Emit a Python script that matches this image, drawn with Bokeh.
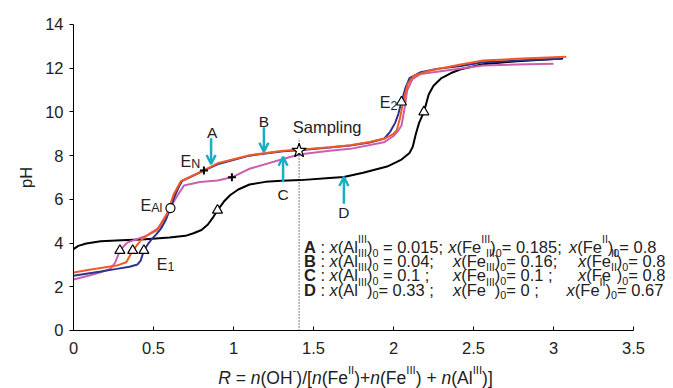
import math
from bokeh.plotting import figure
from bokeh.models import Label, Arrow, OpenHead, FixedTicker, Range1d
from bokeh.embed import file_html
from bokeh.resources import INLINE

# ---------------- data ----------------
X_TICKS = [0, 0.5, 1, 1.5, 2, 2.5, 3, 3.5]
X_TICK_LABELS = ["0", "0.5", "1", "1.5", "2", "2.5", "3", "3.5"]
Y_TICKS = [0, 2, 4, 6, 8, 10, 12, 14]
Y_TICK_LABELS = ["0", "2", "4", "6", "8", "10", "12", "14"]

# Curve A (blue)
R_A = [0, 0.1, 0.17, 0.27, 0.35, 0.4, 0.42, 0.44, 0.47, 0.49, 0.52, 0.55, 0.575, 0.606, 0.63, 0.66,
       0.68, 0.72, 0.815, 0.9, 1.1, 1.31, 1.41, 1.6, 1.73, 1.85, 1.94, 1.98, 2.01, 2.03, 2.05, 2.075,
       2.1, 2.17, 2.27, 2.42, 2.56, 2.77, 3.05]
PH_A = [2.5, 2.62, 2.7, 2.82, 2.92, 3.02, 3.2, 3.66, 4.0, 4.19, 4.42, 4.7, 5.03, 5.6, 6.1, 6.6,
        6.85, 6.98, 7.32, 7.6, 8.0, 8.2, 8.25, 8.37, 8.46, 8.6, 8.77, 9.1, 9.5, 9.9, 10.45, 11.1,
        11.55, 11.82, 11.97, 12.1, 12.27, 12.35, 12.43]

# Curve B (orange-red)
R_B = [0, 0.1, 0.17, 0.27, 0.33, 0.37, 0.42, 0.46, 0.52, 0.585, 0.627, 0.67, 0.72, 0.815, 0.9,
       1.1, 1.31, 1.41, 1.6, 1.73, 1.85, 1.95, 2.0, 2.02, 2.04, 2.06, 2.09, 2.13, 2.23, 2.42, 2.56,
       2.77, 3.08]
PH_B = [2.65, 2.78, 2.86, 2.97, 3.12, 3.66, 4.12, 4.35, 4.58, 5.34, 6.25, 6.82, 7.0, 7.33, 7.65,
        8.02, 8.22, 8.27, 8.38, 8.48, 8.62, 8.8, 9.0, 9.15, 9.7, 10.45, 11.3, 11.67, 11.9, 12.17,
        12.35, 12.43, 12.53]

# Curve C (magenta)
R_C = [0, 0.1, 0.17, 0.23, 0.26, 0.29, 0.335, 0.4, 0.46, 0.54, 0.6, 0.65, 0.69, 0.79, 0.9, 0.99,
       1.1, 1.31, 1.41, 1.6, 1.73, 1.94, 2.0, 2.03, 2.05, 2.07, 2.085, 2.12, 2.17, 2.33, 2.56, 2.77, 3.0]
PH_C = [2.33, 2.52, 2.66, 2.82, 3.1, 3.66, 4.02, 4.19, 4.35, 4.73, 5.57, 6.18, 6.63, 6.79, 6.86, 7.01,
        7.4, 7.85, 8.05, 8.22, 8.31, 8.61, 8.9, 9.15, 9.38, 10.2, 10.98, 11.51, 11.74, 11.9, 12.12,
        12.17, 12.2]

# Curve D (black)
R_D = [0, 0.03, 0.08, 0.17, 0.3, 0.45, 0.6, 0.7, 0.75, 0.8, 0.84, 0.87, 0.9, 0.94, 0.98, 1.03,
       1.1, 1.2, 1.3, 1.42, 1.6, 1.69, 1.81, 1.96, 2.05, 2.1, 2.12, 2.14, 2.16, 2.19, 2.22, 2.25,
       2.3, 2.36, 2.42, 2.56, 2.77, 3.06]
PH_D = [3.72, 3.87, 3.98, 4.08, 4.13, 4.18, 4.25, 4.33, 4.45, 4.6, 4.85, 5.15, 5.5, 5.9, 6.2, 6.45,
        6.68, 6.8, 6.85, 6.88, 6.98, 7.02, 7.22, 7.5, 7.82, 8.12, 8.4, 9.0, 9.5, 10.0, 10.8, 11.2,
        11.55, 11.78, 11.95, 12.18, 12.32, 12.44]

# Characteristic points
TRI_R = [0.29, 0.37, 0.44, 0.9, 2.05, 2.19]
TRI_PH = [3.66, 3.66, 3.66, 5.5, 10.45, 10.0]
EAL_R = [0.606]
EAL_PH = [5.6]
EN_R = [0.815, 0.99]
EN_PH = [7.32, 7.01]
SAMPLING_R = [1.41]
SAMPLING_PH = [8.23]
SAMPLING_TOP = 8.8

# Arrows: (x, y_start, y_end)
ARROW_A = (0.86, 8.8, 7.62)
ARROW_B = (1.19, 9.3, 8.18)
ARROW_C = (1.31, 6.78, 7.95)
ARROW_D = (1.69, 5.8, 7.02)

FONT = "Liberation Sans"
TXT = "#222222"
C_A = "#2e3192"
C_B = "#f15a24"
C_C = "#cc5fae"
C_D = "#000000"
CYAN = "#1aaec6"
NB = "\u00a0"

# the frame covers the whole canvas; axes are pinned at R=0 / pH=0
p = figure(width=673, height=388, x_range=Range1d(-0.45625, 3.75), y_range=Range1d(-2.6536, 15.098),
           output_backend="svg", toolbar_location=None, title=None,
           min_border_left=0, min_border_right=0, min_border_top=0, min_border_bottom=0)
p.outline_line_color = None
p.grid.visible = False

xa = p.xaxis[0]
ya = p.yaxis[0]
xa.fixed_location = 0
ya.fixed_location = 0
xa.bounds = (0, 3.5)
ya.bounds = (0, 14)
xa.ticker = FixedTicker(ticks=X_TICKS)
ya.ticker = FixedTicker(ticks=Y_TICKS)
xa.major_label_overrides = {float(t): s for t, s in zip(X_TICKS, X_TICK_LABELS)}
ya.major_label_overrides = {float(t): s for t, s in zip(Y_TICKS, Y_TICK_LABELS)}
for ax in (xa, ya):
    ax.minor_tick_line_color = None
    ax.axis_line_color = "black"
    ax.major_tick_line_color = "black"
    ax.major_label_text_font = FONT
    ax.major_label_text_font_size = "16.5px"
    ax.major_label_text_color = TXT
xa.major_tick_in = 4
xa.major_tick_out = 0
xa.major_label_standoff = 12
ya.major_tick_in = 0
ya.major_tick_out = 4
ya.major_label_standoff = 6

# curves
p.line(R_D, PH_D, line_color=C_D, line_width=2)
p.line(R_C, PH_C, line_color=C_C, line_width=2)
p.line(R_A, PH_A, line_color=C_A, line_width=2)
p.line(R_B, PH_B, line_color=C_B, line_width=2)

# sampling dotted line
p.line([SAMPLING_R[0], SAMPLING_R[0]], [0, SAMPLING_TOP], line_color="black", line_width=1, line_dash="1 2")

# markers
p.scatter(TRI_R, TRI_PH, marker="triangle", size=10, fill_color="white", line_color="black", line_width=1.2)
p.scatter(EAL_R, EAL_PH, marker="circle", size=9, fill_color="white", line_color="black", line_width=1.2)
p.scatter(EN_R, EN_PH, marker="cross", size=8, line_color="black", line_width=2)
p.scatter(SAMPLING_R, SAMPLING_PH, marker="star", size=15, fill_color="white", line_color="black", line_width=1.2)

# arrows
for (ax_, y0, y1) in (ARROW_A, ARROW_B, ARROW_C, ARROW_D):
    p.add_layout(Arrow(end=OpenHead(size=9, line_color=CYAN, line_width=2.5),
                       x_start=ax_, y_start=y0, x_end=ax_, y_end=y1,
                       line_color=CYAN, line_width=2.5))

# ------------- text helpers -------------
W = {' ': 278, NB: 278, '(': 333, ')': 333, '+': 584, ',': 278, '-': 333, '.': 278, '/': 278, ':': 278,
     ';': 278, '=': 584, '[': 278, ']': 278, 'A': 667, 'B': 667, 'C': 722, 'D': 722, 'E': 667,
     'F': 611, 'H': 722, 'I': 278, 'N': 722, 'O': 778, 'R': 722, 'S': 667, 'a': 556, 'e': 556,
     'g': 556, 'i': 222, 'l': 222, 'm': 833, 'n': 556, 'p': 556, 'x': 500}
WB = {'A': 722, 'B': 722, 'C': 722, 'D': 722, ':': 333}


def tw(s, size, bold=False):
    tot = 0
    for ch in s:
        if bold and ch in WB:
            tot += WB[ch]
        elif ch.isdigit():
            tot += 556
        else:
            tot += W.get(ch, 556)
    return tot * size / 1000.0


def rich(x, y, segs, size, align="left", dx=0, sup_scale=0.65, sub_scale=0.65,
         sup_off=0.5, sub_off=0.33, color=TXT):
    items = []
    total = 0.0
    for text, st in segs:
        text = text.replace(" ", NB)
        fs = size * (sup_scale if '^' in st else sub_scale if '_' in st else 1.0)
        w = tw(text, fs, 'b' in st)
        items.append((text, st, fs, total))
        total += w
    start = dx - (total / 2.0 if align == "center" else 0)
    for text, st, fs, off in items:
        yo = size * sup_off if '^' in st else (-size * sub_off if '_' in st else 0)
        style = "bold" if 'b' in st else ("italic" if 'i' in st else "normal")
        p.add_layout(Label(x=x, y=y, x_offset=start + off, y_offset=yo, text=text,
                           text_font=FONT, text_font_size=f"{fs:.2f}px", text_font_style=style,
                           text_color=color, text_align="left", text_baseline="alphabetic"))


def plain(x, y, text, size=15.5, angle=0.0):
    p.add_layout(Label(x=x, y=y, text=text, text_font=FONT, text_font_size=f"{size}px",
                       text_color=TXT, text_align="center", text_baseline="middle", angle=angle))


# y-axis title
plain(-0.30, 7.0, "pH", size=16.5, angle=math.pi / 2)

# annotation labels
plain(0.867, 9.07, "A")
plain(1.19, 9.55, "B")
plain(1.31, 6.22, "C")
plain(1.69, 5.41, "D")
plain(1.585, 9.3, "Sampling", size=16.5)

rich(0.669, 7.75, [("E", ""), ("N", "_")], 16, sub_scale=0.78, sub_off=0.18)
rich(0.419, 5.72, [("E", ""), ("Al", "_")], 16, sub_scale=0.78, sub_off=0.18)
rich(0.521, 3.04, [("E", ""), ("1", "_")], 16, sub_scale=0.78, sub_off=0.18)
rich(1.914, 10.43, [("E", ""), ("2", "_")], 16, sub_scale=0.78, sub_off=0.18)

# legend block
LEG_R = 1.44
LEG_SIZE = 16.5


def comp(el, sup, val):
    return [("x", "i"), ("(" + el, ""), (sup, "^"), (")", ""), ("0", "_"), (val, "")]


legend_rows = [
    (3.81, "A", " = 0.015;", "= 0.185;", "= 0.8", 144.4, 265.0),
    (3.17, "B", " = 0.04;", "= 0.16;", "= 0.8", 149.0, 274.0),
    (2.52, "C", " = 0.1 ;", "= 0.1 ;", "= 0.8", 149.0, 274.0),
    (1.86, "D", "= 0.33 ;", "= 0 ;", "= 0.67", 149.0, 262.7),
]
for (yy, let, v1, v2, v3, o2, o3) in legend_rows:
    rich(LEG_R, yy, [(let, "b"), (" : ", "")] + comp("Al", "III", v1), LEG_SIZE)
    rich(LEG_R, yy, comp("Fe", "III", v2), LEG_SIZE, dx=o2)
    rich(LEG_R, yy, comp("Fe", "II", v3), LEG_SIZE, dx=o3)

# x-axis title (rich)
rich(1.7625, -2.17, [("R", "i"), (" = ", ""), ("n", "i"), ("(OH", ""), ("-", "^"), (")/[", ""),
                     ("n", "i"), ("(Fe", ""), ("II", "^"), (")+", ""), ("n", "i"), ("(Fe", ""),
                     ("III", "^"), (") + ", ""), ("n", "i"), ("(Al", ""), ("III", "^"), (")]", "")],
     17.5, align="center", sup_off=0.45)

open("out.html", "w").write(file_html(p, INLINE))
